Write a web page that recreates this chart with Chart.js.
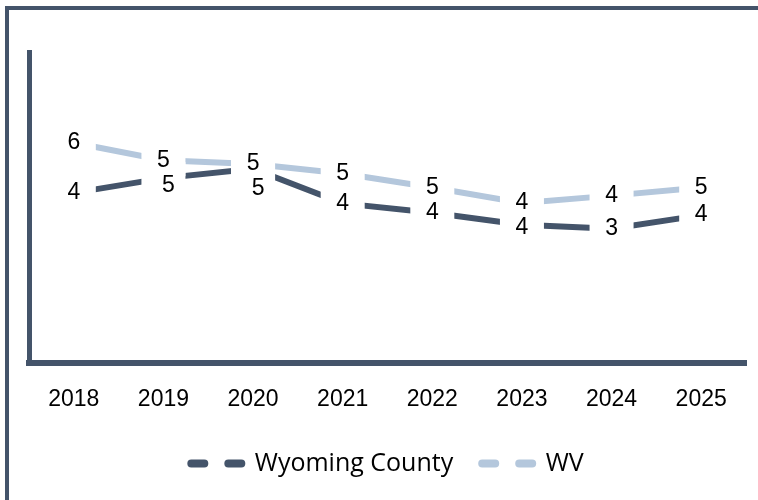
<!DOCTYPE html>
<html>
<head>
<meta charset="utf-8">
<script src="https://cdn.jsdelivr.net/npm/chart.js@4"></script>
<style>
  html, body { margin: 0; padding: 0; background: #fff; }
  #wrap { position: relative; width: 758px; height: 500px; overflow: hidden; }
  #frame { position: absolute; left: 5px; top: 6px; width: 800px; height: 600px; border-top: 4px solid #44546a; border-left: 4px solid #44546a; }
  canvas { position: absolute; left: 0; top: 0; }
</style>
</head>
<body>
<div id="wrap">
  <div id="frame"></div>
  <canvas id="lineChart" width="758" height="500"></canvas>
</div>
<script>
var years = ['2018', '2019', '2020', '2021', '2022', '2023', '2024', '2025'];
var wyomingCounty = [4.38, 4.76, 5.00, 4.11, 3.87, 3.56, 3.46, 3.81];
var wv = [5.67, 5.22, 5.12, 4.88, 4.52, 4.12, 4.31, 4.52];
var seriesNames = ['Wyoming County', 'WV'];

var dark = '#44546a';
var light = '#b4c7dc';

// value labels sit on the points, with a white patch that breaks the line there
var pointLabels = {
    id: 'pointLabels',
    afterDatasetsDraw: function(chart) {
        var ctx = chart.ctx;
        var spots = [];
        chart.data.datasets.forEach(function(ds, i) {
            chart.getDatasetMeta(i).data.forEach(function(pt, j) {
                spots.push({x: pt.x, y: pt.y, ds: i, idx: j, text: String(Math.round(ds.data[j]))});
            });
        });
        ctx.save();
        ctx.fillStyle = '#fff';
        spots.forEach(function(s) {
            ctx.fillRect(s.x - 22, s.y - 16, 44, 32);
        });
        ctx.font = '23px "Liberation Sans", Arial, sans-serif';
        ctx.fillStyle = '#000';
        ctx.textAlign = 'center';
        ctx.textBaseline = 'middle';
        var wvMeta = chart.getDatasetMeta(1).data;
        spots.forEach(function(s) {
            var x = s.x, y = s.y;
            if (s.ds === 0) {
                // keep the county label clear of the WV label above it
                var minY = wvMeta[s.idx].y + 25;
                if (y < minY) {
                    if (minY - y > 5) x += 5;
                    y = minY;
                }
            }
            ctx.fillText(s.text, x, y);
        });
        ctx.restore();
    }
};

new Chart(document.getElementById('lineChart'), {
    type: 'line',
    data: {
        labels: years,
        datasets: [
            {
                label: seriesNames[0],
                data: wyomingCounty,
                borderColor: dark,
                backgroundColor: dark
            },
            {
                label: seriesNames[1],
                data: wv,
                borderColor: light,
                backgroundColor: light
            }
        ]
    },
    options: {
        responsive: false,
        animation: false,
        layout: {
            padding: {left: 29, right: 12, top: 52, bottom: 14}
        },
        elements: {
            point: {radius: 0, hoverRadius: 0},
            line: {borderWidth: 6, tension: 0, borderCapStyle: 'butt', fill: false}
        },
        scales: {
            x: {
                offset: true,
                grid: {display: false, drawTicks: false, offset: true},
                border: {display: true, color: dark, width: 6},
                ticks: {
                    color: '#000',
                    padding: 22,
                    font: {family: '"Liberation Sans", Arial, sans-serif', size: 23}
                },
                afterFit: function(scale) {
                    scale.height -= 13;
                }
            },
            y: {
                min: 0,
                max: 8,
                grid: {display: false, drawTicks: false},
                border: {display: true, color: dark, width: 5},
                ticks: {display: false}
            }
        },
        plugins: {
            tooltip: {enabled: false},
            legend: {
                position: 'bottom',
                labels: {
                    usePointStyle: true,
                    pointStyleWidth: 51,
                    padding: 29,
                    color: '#000',
                    font: {family: '"Open Sans", sans-serif', size: 25},
                    generateLabels: function(chart) {
                        return chart.data.datasets.map(function(ds, i) {
                            return {
                                text: ds.label,
                                fillStyle: ds.borderColor,
                                strokeStyle: ds.borderColor,
                                lineWidth: 8,
                                lineDash: [13, 24],
                                lineCap: 'round',
                                pointStyle: 'line',
                                fontColor: '#000',
                                datasetIndex: i
                            };
                        });
                    }
                }
            }
        }
    },
    plugins: [pointLabels]
});
</script>
</body>
</html>
